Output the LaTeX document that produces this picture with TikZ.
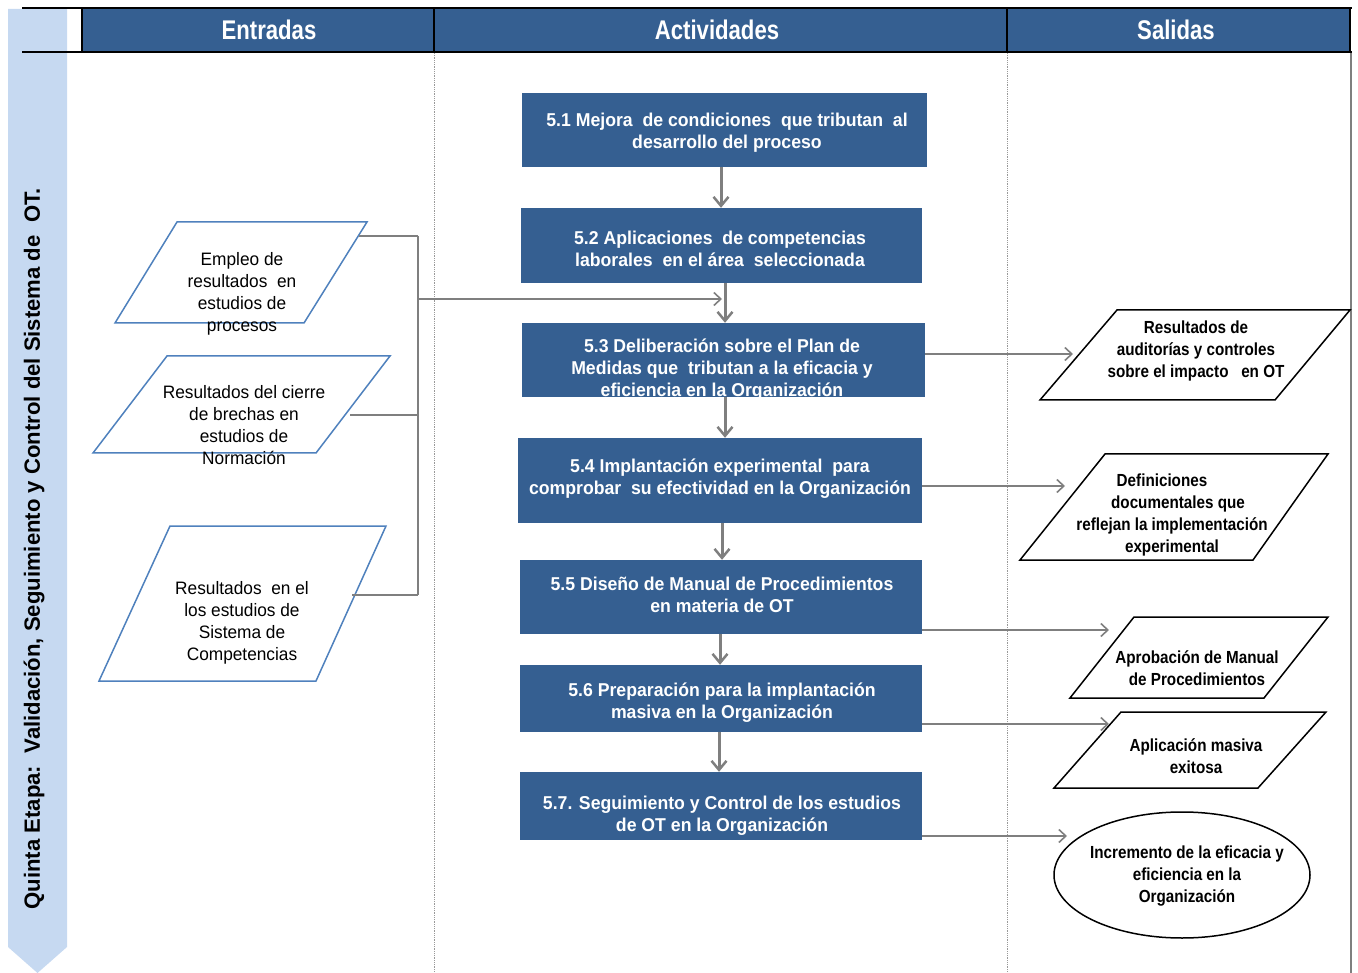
\documentclass[tikz,border=0pt]{standalone}
\usepackage{fontspec}
\setmainfont{Liberation Sans}
\newfontfamily\hdrf[FakeStretch=0.82]{Liberation Sans}
\newfontfamily\actf[FakeStretch=0.95]{Liberation Sans}
\newfontfamily\inpf[FakeStretch=0.96]{Liberation Sans}
\newfontfamily\outf[FakeStretch=0.87]{Liberation Sans}
\usetikzlibrary{arrows.meta,shapes.geometric,calc}
\definecolor{hdr}{HTML}{355F91}
\definecolor{band}{HTML}{C6D9F1}
\definecolor{gr}{HTML}{7F7F7F}
\definecolor{inb}{HTML}{4F81BD}
\begin{document}
\begin{tikzpicture}[x=1pt,y=-1pt,
  actbox/.style={draw=none,fill=hdr,inner sep=0pt},
  acttext/.style={text=white,font=\actf\bfseries\fontsize{18.6}{22}\selectfont,align=center,inner sep=0pt,yshift=-3pt},
  hdrtext/.style={text=white,font=\hdrf\bfseries\fontsize{27}{30}\selectfont,inner sep=0pt},
  intext/.style={text=black,font=\inpf\fontsize{18}{22}\selectfont,align=center,inner sep=0pt,yshift=-2pt},
  outtext/.style={text=black,font=\outf\bfseries\fontsize{17.5}{22}\selectfont,align=center,inner sep=0pt,yshift=-2pt},
  inshape/.style={draw=inb,line width=1.5pt,fill=white},
  outshape/.style={draw=black,line width=1.5pt,fill=white},
  varrow/.style={draw=gr,line width=3pt,-{Straight Barb[length=9pt,width=15pt,line width=2.5pt]}},
  harrow/.style={draw=gr,line width=1.6pt,-{Straight Barb[length=7pt,width=13pt,line width=1.6pt]}},
  brline/.style={draw=gr,line width=1.6pt},
  sepline/.style={draw=gr!80,line width=0.8pt,densely dotted}
]
\useasboundingbox (0,0) rectangle (1358,973);
% side banner
\fill[band] (8,9) -- (67,9) -- (67,947) -- (37.5,973) -- (8,947) -- cycle;
\node[rotate=90,font=\bfseries\fontsize{22.1}{25}\selectfont,inner sep=0pt] (banner) at (34,549) {Quinta Etapa:\ \ Validación, Seguimiento y Control del Sistema de\ \ OT.};
% header
\fill[hdr] (82,9) rectangle (1350,51);
\draw[black,line width=2.5pt] (22,8) -- (1352,8);
\draw[black,line width=2.5pt] (22,52) -- (1352,52);
\foreach \xx in {82,434,1007,1350} \draw[black,line width=2.5pt] (\xx,8) -- (\xx,52);
\node[hdrtext] (h1) at (269,30) {Entradas};
\node[hdrtext] (h2) at (717,30) {Actividades};
\node[hdrtext] (h3) at (1176,30) {Salidas};
% separators
\draw[sepline] (434,53) -- (434,973);
\draw[sepline] (1007,53) -- (1007,973);
\draw[draw=gr,line width=2pt] (1351,53) -- (1351,973);
% activity boxes
\node[actbox,minimum width=405pt,minimum height=74pt] (a1) at (724.5,130) {};
\node[actbox,minimum width=401pt,minimum height=75pt] (a2) at (721.5,245.5) {};
\node[actbox,minimum width=403pt,minimum height=74pt] (a3) at (723.5,360) {};
\node[actbox,minimum width=404pt,minimum height=85pt] (a4) at (720,480.5) {};
\node[actbox,minimum width=402pt,minimum height=74pt] (a5) at (721,597) {};
\node[actbox,minimum width=402pt,minimum height=67pt] (a6) at (721,698.5) {};
\node[actbox,minimum width=402pt,minimum height=68pt] (a7) at (721,806) {};
\node[acttext] (t1) at (727,130) {5.1 Mejora\ \ de condiciones\ \ que tributan\ \ al\\desarrollo del proceso};
\node[acttext] (t2) at (720,245.5) {5.2 Aplicaciones\ \ de competencias\\laborales\ \ en el área\ \ seleccionada};
\node[acttext] (t3) at (722,366.5) {5.3 Deliberación sobre el Plan de\\Medidas que\ \ tributan a la eficacia y\\eficiencia en la Organización};
\node[acttext] (t4) at (720,476) {5.4 Implantación experimental\ \ para\\comprobar\ \ su efectividad en la Organización};
\node[acttext] (t5) at (722,592) {5.5 Diseño de Manual de Procedimientos\\en materia de OT};
\node[acttext] (t6) at (722,700) {5.6 Preparación para la implantación\\masiva en la Organización};
\node[acttext] (t7) at (722,812.5) {5.7. Seguimiento y Control de los estudios\\de OT en la Organización};
% vertical arrows
\draw[varrow] ([xshift=-3.5pt]a1.south) -- ([xshift=-0.5pt]a2.north);
\draw[varrow] ([xshift=3.5pt]a2.south) -- ([xshift=1.5pt]a3.north);
\draw[varrow] ([xshift=1.5pt]a3.south) -- ([xshift=5pt]a4.north);
\draw[varrow] ([xshift=2pt]a4.south) -- ([xshift=1pt]a5.north);
\draw[varrow] ([xshift=-1pt]a5.south) -- ([xshift=-1pt]a6.north);
\draw[varrow] ([xshift=-2pt]a6.south) -- ([xshift=-2pt]a7.north);
% inputs
\draw[inshape] (177,222) -- (367,222) -- (304,323) -- (115,323) -- cycle;
\draw[inshape] (167,356) -- (390,356) -- (316,453) -- (93,453) -- cycle;
\draw[inshape] (170,526) -- (386,526) -- (316,681) -- (99,681) -- cycle;
\node[intext] (i1) at (242,292) {Empleo de\\resultados\ \ en\\estudios de\\procesos};
\node[intext] (i2) at (244,423.5) {Resultados del cierre\\de brechas en\\estudios de\\Normación};
\node[intext] (i3) at (242,621) {Resultados\ \ en el\\los estudios de\\Sistema de\\Competencias};
\coordinate (p1) at (359,236);
\coordinate (p2) at (350,415);
\coordinate (p3) at (352,595);
\coordinate (b1) at (418,236);
\coordinate (b2) at (418,415);
\coordinate (b3) at (418,595);
\coordinate (bm) at (418,299);
\coordinate (bin) at (722,299);
\draw[brline] (p1) -- (b1);
\draw[brline] (p2) -- (b2);
\draw[brline] (p3) -- (b3);
\draw[brline] (b1) -- (b3);
\draw[harrow] (bm) -- (bin);
% outputs
\draw[outshape] (1117,310) -- (1350,310) -- (1275,400) -- (1040,400) -- cycle;
\draw[outshape] (1105,454) -- (1328,454) -- (1253,560) -- (1020,560) -- cycle;
\draw[outshape] (1134,617) -- (1328,617) -- (1264,698) -- (1070,698) -- cycle;
\draw[outshape] (1121,712) -- (1326,712) -- (1258,788) -- (1054,788) -- cycle;
\node[draw=black,line width=1.5pt,ellipse,minimum width=256pt,minimum height=126pt,inner sep=0pt] (o5) at (1182,875) {};
\node[outtext] (o1) at (1196,349) {Resultados de\\auditorías y controles\\sobre el impacto\ \ \ en OT};
\node[outtext] (o2) at (1172,513) {Definiciones\hspace*{20pt}\\\hspace*{12pt}documentales que\\reflejan la implementación\\experimental};
\node[outtext] (o3) at (1197,666) {Aprobación de Manual\\de Procedimientos};
\node[outtext] (o4) at (1196,754) {Aplicación masiva\\exitosa};
\node[outtext] (o5t) at (1187,874) {Incremento de la eficacia y\\eficiencia en la\\Organización};
\coordinate (e1) at (1073,354);
\coordinate (e2) at (1065,486);
\coordinate (e3) at (1109,630);
\coordinate (e4) at (1109,724);
\coordinate (e5) at (1067,836);
\draw[harrow] (a3.east |- e1) -- (e1);
\draw[harrow] (a4.east |- e2) -- (e2);
\draw[harrow] (a5.east |- e3) -- (e3);
\draw[harrow] (a6.east |- e4) -- (e4);
\draw[harrow] (a7.east |- e5) -- (e5);
\end{tikzpicture}
\end{document}
